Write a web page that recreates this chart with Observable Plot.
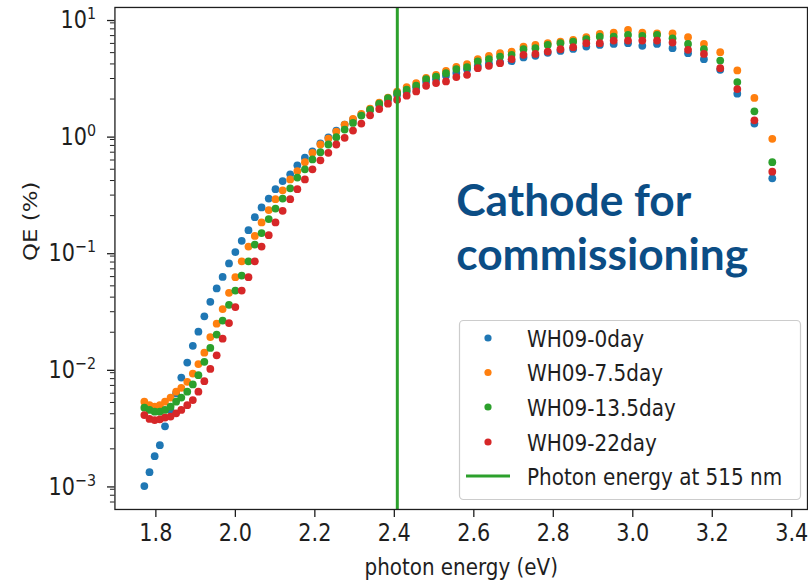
<!DOCTYPE html>
<html>
<head>
<meta charset="utf-8">
<script src="https://cdn.jsdelivr.net/npm/d3@7"></script>
<script src="https://cdn.jsdelivr.net/npm/@observablehq/plot@0.6"></script>
<style>
html, body { margin: 0; padding: 0; background: #fff; overflow: hidden; }
#wrap { position: relative; width: 808px; height: 583px; overflow: hidden; }
#legend { position: absolute; left: 0; top: 0; pointer-events: none; }
</style>
</head>
<body>
<div id="wrap"></div>
<script>
// photon energies (eV)
const energy = [1.771,1.784,1.797,1.810,1.823,1.837,1.851,1.864,1.879,1.893,
  1.907,1.922,1.937,1.953,1.968,1.984,2.000,2.016,2.033,2.049,
  2.066,2.084,2.101,2.119,2.138,2.156,2.175,2.194,2.214,2.234,
  2.254,2.275,2.296,2.317,2.339,2.362,2.384,2.407,2.431,2.455,
  2.480,2.505,2.530,2.556,2.583,2.610,2.638,2.666,2.695,2.725,
  2.755,2.786,2.818,2.850,2.883,2.917,2.952,2.988,3.024,3.061,
  3.100,3.139,3.179,3.220,3.263,3.306,3.351];

// QE (%) per series
const qe0day = [0.00096,0.00126,0.00173,0.00215,0.00312,0.00428,0.00597,0.00818,0.0110,0.0153,
  0.0202,0.0274,0.0365,0.0475,0.0596,0.0778,0.0975,0.1216,0.150,0.194,
  0.235,0.280,0.337,0.396,0.452,0.540,0.628,0.710,0.832,0.936,
  1.074,1.208,1.334,1.469,1.607,1.790,1.972,2.178,2.312,2.500,
  2.812,2.958,3.162,3.35,3.60,3.855,4.046,4.15,4.22,4.55,
  4.70,4.977,5.176,5.383,5.631,5.821,5.943,6.026,5.715,5.94,
  5.458,4.943,4.395,3.565,2.223,1.233,0.418];
const qe7_5day = [0.00507,0.00474,0.00460,0.00474,0.00507,0.00550,0.00618,0.00668,0.00752,0.00885,
  0.01067,0.01337,0.0182,0.0237,0.0316,0.0436,0.0593,0.0811,0.1086,0.134,
  0.175,0.223,0.277,0.330,0.409,0.482,0.575,0.692,0.815,0.916,
  1.052,1.208,1.352,1.489,1.656,1.862,2.056,2.312,2.535,2.742,
  3.043,3.228,3.491,3.776,3.981,4.395,4.688,4.943,5.105,5.631,
  5.821,6.026,6.209,6.427,6.776,7.228,7.413,7.822,7.413,7.328,
  7.328,6.776,5.943,5.047,3.516,2.042,0.912];
const qe13_5day = [0.00451,0.00431,0.00417,0.00417,0.00431,0.00460,0.00507,0.00550,0.00618,0.00713,
  0.00857,0.01114,0.01466,0.0191,0.0252,0.0344,0.0455,0.0612,0.0811,0.113,
  0.1416,0.187,0.230,0.280,0.343,0.424,0.499,0.607,0.700,0.815,
  0.942,1.094,1.247,1.442,1.622,1.824,2.032,2.254,2.404,2.600,
  2.965,3.119,3.334,3.614,3.758,4.198,4.395,4.624,4.786,5.346,
  5.458,5.821,6.026,6.209,6.516,6.855,6.855,7.096,6.950,7.096,
  6.637,5.943,5.346,4.276,2.799,1.570,0.575];
const qe22day = [0.00390,0.00361,0.00353,0.00358,0.00371,0.00378,0.00403,0.00431,0.00474,0.00524,
  0.00618,0.0076,0.0097,0.01268,0.01762,0.0240,0.0329,0.0455,0.0593,0.0811,
  0.1086,0.136,0.175,0.220,0.277,0.337,0.409,0.499,0.596,0.692,
  0.815,0.929,1.074,1.233,1.45,1.64,1.824,1.972,2.138,2.323,
  2.600,2.742,2.831,3.083,3.228,3.681,3.855,4.064,4.395,4.786,
  4.875,5.105,5.346,5.572,6.026,6.026,6.339,6.339,6.339,6.339,
  6.095,5.281,4.875,3.681,2.438,1.315,0.476];

const seriesNames = ["WH09-0day", "WH09-7.5day", "WH09-13.5day", "WH09-22day"];
const seriesValues = [qe0day, qe7_5day, qe13_5day, qe22day];
const seriesColors = ["#1f77b4", "#ff7f0e", "#2ca02c", "#d62728"];

const lineName = "Photon energy at 515 nm";
const lineEnergy = [2.4075];
const lineColor = "#2ca02c";

const xTicks = [1.8, 2.0, 2.2, 2.4, 2.6, 2.8, 3.0, 3.2, 3.4];
const xTickLabels = ["1.8", "2.0", "2.2", "2.4", "2.6", "2.8", "3.0", "3.2", "3.4"];
const yTicks = [0.001, 0.01, 0.1, 1, 10];
const yTickExponents = ["−3", "−2", "−1", "0", "1"];
const xLabel = "photon energy (eV)";
const yLabel = "QE (%)";
const annotation = "Cathode for\ncommissioning";

const yDomain = [6.04e-4, 12.2];
const yMinor = [];
for (let e = -4; e <= 1; e++) for (let m = 2; m <= 9; m++) {
  const v = m * Math.pow(10, e);
  if (v > yDomain[0] && v < yDomain[1]) yMinor.push(v);
}

const rows = seriesNames.map((name, k) => energy.map((e, i) => ({e, qe: seriesValues[k][i], name})));

const SQ = 0.87;
const FONT = '"DejaVu Sans", sans-serif';

const chart = Plot.plot({
  width: 812,
  height: 583,
  marginLeft: 115,
  marginRight: 1,
  marginTop: 7,
  marginBottom: 71.5,
  style: {fontFamily: FONT, fontSize: "24px", color: "#1e1e1e", background: "white", overflow: "visible"},
  x: {type: "linear", domain: [1.697, 3.4396], label: null},
  y: {type: "log", domain: yDomain, label: null},
  marks: [
    ...rows.map((r, k) => Plot.dot(r, {x: "e", y: "qe", r: 3.9, fill: seriesColors[k], stroke: null})),
    Plot.ruleX(lineEnergy, {stroke: lineColor, strokeWidth: 3}),
    Plot.frame({stroke: "#1e1e1e", strokeWidth: 1.3}),
    Plot.axisX(xTicks, {tickSize: 8, tickPadding: 7, tickFormat: d => xTickLabels[xTicks.findIndex(v => Math.abs(v - d) < 1e-9)], label: null, fontSize: 24, strokeWidth: 1.3}),
    Plot.axisY(yTicks, {tickSize: 7.5, tickPadding: 11.5, tickFormat: d => "10^" + yTickExponents[yTicks.findIndex(v => Math.abs(v / d - 1) < 1e-9)], label: null, fontSize: 24, strokeWidth: 1.3, dy: 3}),
    Plot.axisY(yMinor, {tickSize: 4.5, tickFormat: () => "", label: null, strokeWidth: 1}),
    Plot.text([xLabel], {frameAnchor: "bottom", dy: 65.5, lineAnchor: "bottom", fontSize: 23}),
    Plot.text([yLabel], {frameAnchor: "left", dx: -85, dy: 2.5, rotate: -90, lineAnchor: "middle", fontSize: 23}),
    Plot.text([annotation], {frameAnchor: "top-left", dx: 343, dy: 171, textAnchor: "start", lineAnchor: "top",
      lineHeight: 1.22, fontSize: 44.5, fontWeight: 700, fontFamily: "Lato, 'Open Sans', sans-serif", fill: "#0b4d85"})
  ]
});

// superscript exponents on y tick labels
chart.querySelectorAll('g[aria-label="y-axis tick label"] text').forEach(t => {
  const m = (t.textContent || "").match(/^10\^(.+)$/);
  if (!m) return;
  t.textContent = "10";
  const sup = document.createElementNS("http://www.w3.org/2000/svg", "tspan");
  sup.setAttribute("dy", "-9");
  sup.setAttribute("font-size", "16.5");
  sup.textContent = m[1];
  t.appendChild(sup);
});

// horizontal squeeze of matplotlib text (reference image is horizontally compressed)
chart.querySelectorAll("text").forEach(t => {
  if ((t.textContent || "").startsWith("Cathode")) return;
  const tr = t.getAttribute("transform") || "";
  t.setAttribute("transform", tr + (tr.includes("rotate") ? ` scale(1,${SQ})` : ` scale(${SQ},1)`));
});

const wrap = document.getElementById("wrap");
wrap.appendChild(chart);

// legend
const NS = "http://www.w3.org/2000/svg";
const lg = document.createElementNS(NS, "svg");
lg.setAttribute("id", "legend");
lg.setAttribute("width", 808);
lg.setAttribute("height", 583);
const box = document.createElementNS(NS, "rect");
Object.entries({x: 459.5, y: 320.5, width: 341, height: 179, rx: 4, fill: "white", "fill-opacity": 0.85, stroke: "#cccccc", "stroke-width": 1.2})
  .forEach(([k, v]) => box.setAttribute(k, v));
lg.appendChild(box);
const rowY = [338, 372.5, 407, 442, 476];
const entries = seriesNames.map((n, k) => ({name: n, color: seriesColors[k], type: "dot"}))
  .concat([{name: lineName, color: lineColor, type: "line"}]);
entries.forEach((en, i) => {
  const y = rowY[i];
  if (en.type === "dot") {
    const c = document.createElementNS(NS, "circle");
    c.setAttribute("cx", 488); c.setAttribute("cy", y); c.setAttribute("r", 3.6); c.setAttribute("fill", en.color);
    lg.appendChild(c);
  } else {
    const l = document.createElementNS(NS, "line");
    l.setAttribute("x1", 466); l.setAttribute("x2", 510); l.setAttribute("y1", y); l.setAttribute("y2", y);
    l.setAttribute("stroke", en.color); l.setAttribute("stroke-width", 3);
    lg.appendChild(l);
  }
  const t = document.createElementNS(NS, "text");
  t.setAttribute("transform", `translate(527,${y + 8.5}) scale(${SQ},1)`);
  t.setAttribute("font-family", FONT);
  t.setAttribute("font-size", 23);
  t.setAttribute("fill", "#1e1e1e");
  t.textContent = en.name;
  lg.appendChild(t);
});
wrap.appendChild(lg);
</script>
</body>
</html>
